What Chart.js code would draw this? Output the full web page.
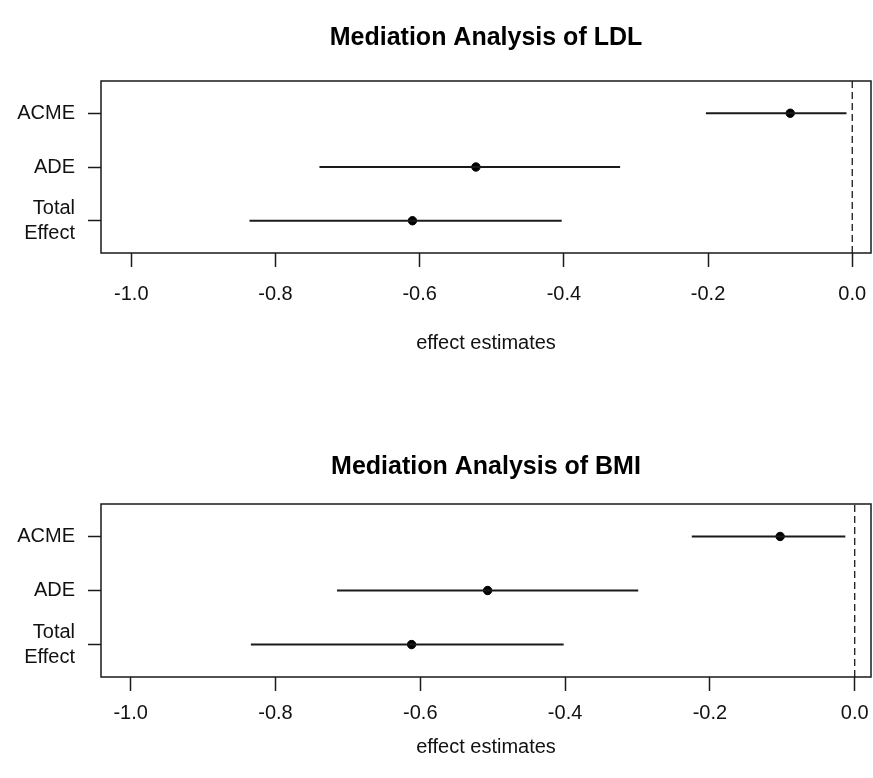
<!DOCTYPE html>
<html>
<head>
<meta charset="utf-8">
<script src="https://cdn.jsdelivr.net/npm/chart.js@4"></script>
<style>
  html, body { margin: 0; padding: 0; background: #fff; overflow: hidden; }
  .panel { position: relative; width: 873px; }
  canvas { display: block; }
</style>
</head>
<body>
<div class="panel" style="height:400px"><canvas id="ldlChart"></canvas></div>
<div class="panel" style="height:378px"><canvas id="bmiChart"></canvas></div>
<script>
// rows, top to bottom
const effectLabels = ["ACME", "ADE", ["Total", "Effect"]];
const rowPos = [3, 2, 1];
const xTicks = [-1.0, -0.8, -0.6, -0.4, -0.2, 0.0];

// LDL panel
const ldlEstimate = [-0.086, -0.522, -0.610];
const ldlLower = [-0.203, -0.739, -0.836];
const ldlUpper = [-0.008, -0.322, -0.403];

// BMI panel
const bmiEstimate = [-0.103, -0.507, -0.612];
const bmiLower = [-0.225, -0.715, -0.834];
const bmiUpper = [-0.013, -0.299, -0.402];

Chart.defaults.font.family = "'Liberation Sans', Arial, sans-serif";
Chart.defaults.color = "#111";

// box round the plot region, like R's box()
const boxPlugin = {
  id: "box",
  afterDatasetsDraw(chart) {
    const { ctx, chartArea: a } = chart;
    ctx.save();
    ctx.strokeStyle = "#1a1a1a";
    ctx.lineWidth = 1.5;
    ctx.strokeRect(a.left, a.top, a.right - a.left, a.bottom - a.top);
    ctx.restore();
  }
};

function makeChart(id, title, est, lo, hi, o) {
  const yMin = 0.4, yMax = 3.6;

  // one horizontal segment per row for the interval
  const ciSets = rowPos.map((y, i) => ({
    type: "line",
    data: [{ x: lo[i], y: y }, { x: hi[i], y: y }],
    borderColor: "#1a1a1a",
    borderWidth: 2,
    pointRadius: 0
  }));

  const zeroLine = {
    type: "line",
    data: [{ x: 0, y: yMin }, { x: 0, y: yMax }],
    borderColor: "#1a1a1a",
    borderWidth: 1.3,
    borderDash: [7, 4],
    pointRadius: 0
  };

  const points = {
    type: "scatter",
    data: rowPos.map((y, i) => ({ x: est[i], y: y })),
    backgroundColor: "#000",
    borderColor: "#000",
    pointRadius: 4.2
  };

  return new Chart(document.getElementById(id), {
    type: "scatter",
    data: { datasets: [zeroLine, ...ciSets, points] },
    plugins: [boxPlugin],
    options: {
      responsive: true,
      maintainAspectRatio: false,
      animation: false,
      layout: { autoPadding: false, padding: { left: 0, right: 2, top: 0, bottom: 0 } },
      plugins: {
        legend: { display: false },
        tooltip: { enabled: false },
        title: {
          display: true,
          fullSize: false,
          text: title,
          color: "#000",
          font: { size: 25, weight: "bold", lineHeight: 1.2 },
          padding: { top: o.titleTop, bottom: o.titleBottom }
        }
      },
      scales: {
        x: {
          type: "linear",
          min: o.xMin,
          max: o.xMax,
          afterBuildTicks: s => { s.ticks = xTicks.map(v => ({ value: v })); },
          afterFit: s => {
            s.height = o.xHeight;
            // labels sit inside the box width, no extra side padding
            s.paddingLeft = 0;
            s.paddingRight = 0;
          },
          grid: { drawOnChartArea: false, tickLength: 14, tickWidth: 1.5, tickColor: "#1a1a1a" },
          border: { display: false },
          ticks: {
            padding: o.tickPad,
            autoSkip: false,
            maxRotation: 0,
            font: { size: 20 },
            color: "#111",
            callback: v => v.toFixed(1)
          },
          title: {
            display: true,
            text: "effect estimates",
            color: "#111",
            font: { size: 20, lineHeight: 1.2 },
            padding: { top: 0, bottom: o.labelBottom }
          }
        },
        y: {
          type: "linear",
          min: yMin,
          max: yMax,
          afterBuildTicks: s => { s.ticks = rowPos.map(v => ({ value: v })); },
          afterFit: s => {
            s.width = 101;
            s.paddingTop = 0;
            s.paddingBottom = 0;
          },
          grid: { drawOnChartArea: false, tickLength: 13, tickWidth: 1.5, tickColor: "#1a1a1a" },
          border: { display: false },
          ticks: {
            padding: 13,
            autoSkip: false,
            font: { size: 20, lineHeight: 1.25 },
            color: "#111",
            callback: v => effectLabels[rowPos.indexOf(v)]
          }
        }
      }
    }
  });
}

makeChart("ldlChart", "Mediation Analysis of LDL", ldlEstimate, ldlLower, ldlUpper, {
  xMin: -1.042, xMax: 0.026,
  titleTop: 23, titleBottom: 28,
  xHeight: 147, tickPad: 15, labelBottom: 45
});

makeChart("bmiChart", "Mediation Analysis of BMI", bmiEstimate, bmiLower, bmiUpper, {
  xMin: -1.041, xMax: 0.0225,
  titleTop: 52, titleBottom: 22,
  xHeight: 101, tickPad: 10, labelBottom: 19
});
</script>
</body>
</html>
